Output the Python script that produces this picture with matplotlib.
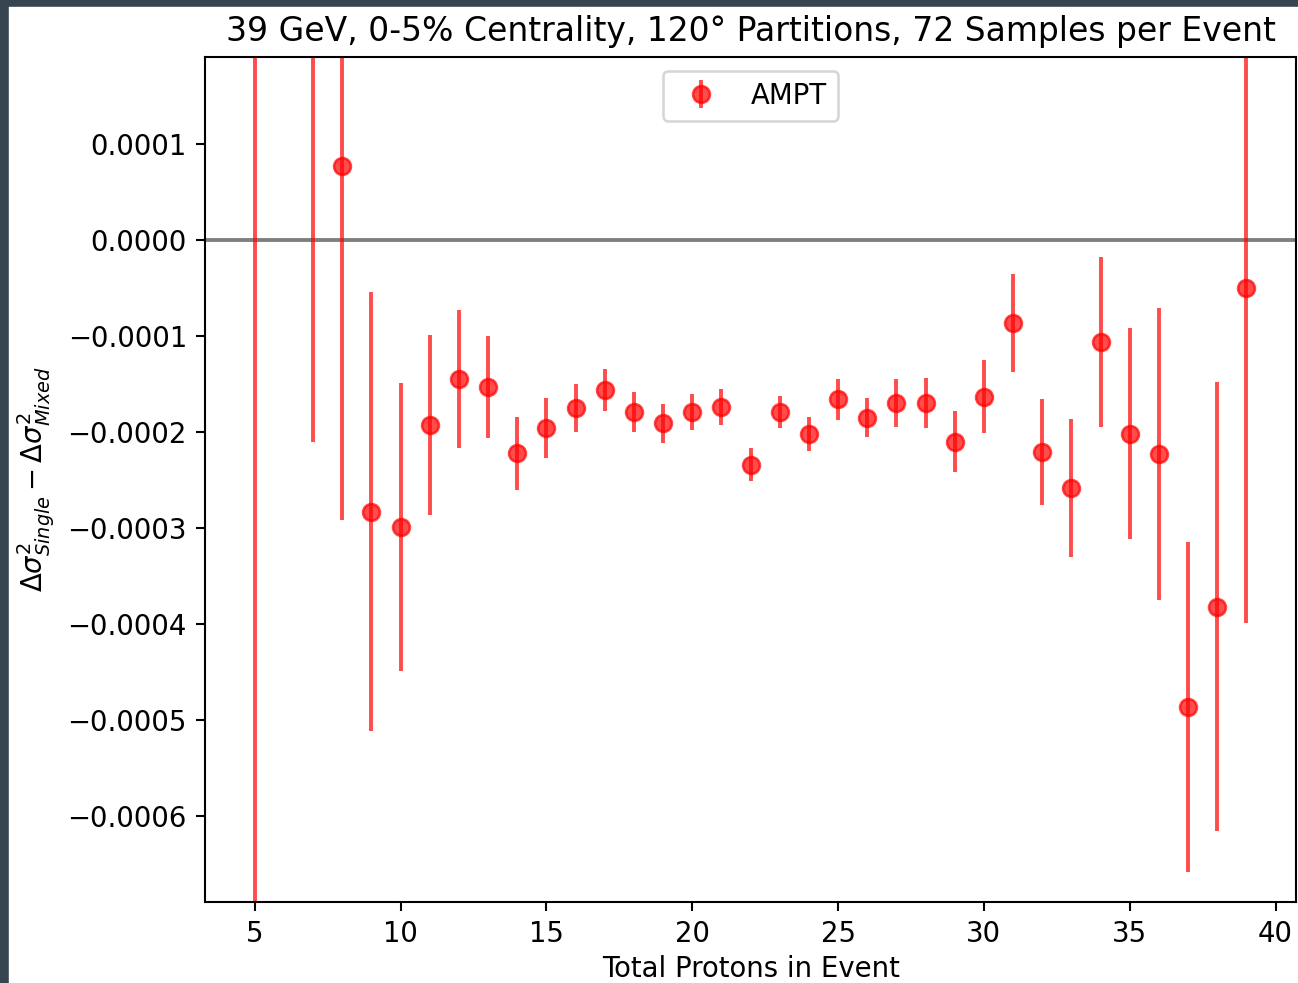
import numpy as np
import matplotlib
matplotlib.use('Agg')
from matplotlib import pyplot as plt
from matplotlib.patches import Rectangle

# total protons per event and the difference in width
protons = [5, 7, 8, 9, 10, 11, 12, 13, 14, 15, 16, 17, 18, 19, 20, 21, 22,
           23, 24, 25, 26, 27, 28, 29, 30, 31, 32, 33, 34, 35, 36, 37, 38, 39]
delta = [0.00025, 0.00025, 0.0000771, -0.000283, -0.000299, -0.000193, -0.000145,
         -0.000153, -0.000222, -0.000196, -0.000175, -0.000156, -0.000179, -0.000191,
         -0.000179, -0.000174, -0.000234, -0.000179, -0.000202, -0.000166, -0.000185,
         -0.000170, -0.000170, -0.000210, -0.000163, -0.0000865, -0.000221, -0.000258,
         -0.000106, -0.000202, -0.000223, -0.000487, -0.000382, -0.0000495]
delta_err = [0.0010, 0.00046, 0.000369, 0.000229, 0.000150, 0.000094, 0.000072,
             0.000053, 0.000038, 0.000031, 0.000025, 0.000022, 0.000021, 0.000020,
             0.000019, 0.000019, 0.000017, 0.000017, 0.000018, 0.000021, 0.000020,
             0.000025, 0.000026, 0.000032, 0.000038, 0.000051, 0.000055, 0.000072,
             0.000089, 0.000110, 0.000152, 0.000172, 0.000234, 0.000350]

plt.rcParams['font.size'] = 10.6

dpi = 187
fig = plt.figure(figsize=(1298 / dpi, 983 / dpi), dpi=dpi)
ax = fig.add_axes([0.158, 0.0824, 0.8405, 0.8596])

ax.axhline(0, color='gray')
ax.errorbar(protons, delta, yerr=delta_err, fmt='o', color='red', alpha=0.7,
            ms=6.5, label='AMPT')
ax.set_ylim(-0.00069, 0.000191)
ax.set_xlabel('Total Protons in Event', labelpad=2.5)
ax.set_ylabel(r'$\Delta\sigma^2_{Single} - \Delta\sigma^2_{Mixed}$')
ax.set_title('39 GeV, 0-5% Centrality, 120° Partitions, 72 Samples per Event')
ax.legend(loc='upper center')

# dark frame of the screenshot
frame = '#36454f'
fig.patches.append(Rectangle((0, 0), 7 / 1298, 1, transform=fig.transFigure, color=frame, zorder=10))
fig.patches.append(Rectangle((0, 1 - 5 / 983), 1, 5 / 983, transform=fig.transFigure, color=frame, zorder=10))

fig.savefig('out.png', dpi=dpi)
